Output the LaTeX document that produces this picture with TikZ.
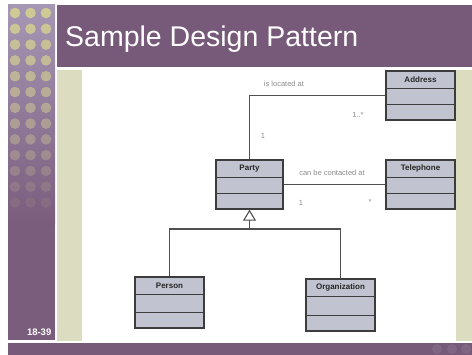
\documentclass[tikz,border=0pt]{standalone}
\usepackage{fontspec}
\setmainfont{Liberation Sans}
\usetikzlibrary{arrows.meta,calc}
\definecolor{hdr}{HTML}{775A79}
\definecolor{beige}{HTML}{DCDCC0}
\definecolor{striptop}{HTML}{A697B5}
\definecolor{stripbot}{HTML}{7A5C7C}
\definecolor{dotc}{HTML}{CFC994}
\definecolor{boxfill}{HTML}{C1C4D0}
\definecolor{boxline}{HTML}{3C3C3C}
\definecolor{lbl}{HTML}{8C8C8C}
\definecolor{conn}{HTML}{505050}
\tikzset{
  classbox/.style={draw=boxline, fill=boxfill, line width=1.3pt, inner sep=0pt},
  classname/.style={font=\bfseries\fontsize{8}{9}\selectfont, text=black!85, inner sep=0pt},
  divider/.style={draw=boxline, line width=1.3pt},
  conline/.style={draw=conn, line width=1.1pt},
  assoclbl/.style={font=\fontsize{7.5}{9}\selectfont, text=lbl, inner sep=0pt},
  gentip/.style={-{Triangle[open,length=11pt,width=13pt,line width=1.1pt]}}
}
\begin{document}
\begin{tikzpicture}[x=1pt,y=-1pt]
\useasboundingbox (0,0) rectangle (472,355);
\fill[white] (0,0) rectangle (472,355);
% left strip
\shade[top color=striptop, bottom color=stripbot] (8,5) rectangle (55,225);
\fill[stripbot] (8,224) rectangle (55,340);
\foreach \r in {0,...,12}{
  \pgfmathsetmacro{\op}{max(0.08,1-\r*0.075)}
  \foreach \cx in {15,30.5,46}{
    \fill[dotc, opacity=\op] (\cx,{13+\r*15.8}) circle (5.3);
  }
}
% header
\fill[hdr] (57,5) rectangle (472,67.5);
\node[anchor=base west, text=white, font=\fontsize{28.5}{30}\selectfont, inner sep=0pt] (title) at (65,47) {Sample Design Pattern};
% panels
\fill[beige] (57,70) rectangle (82,341);
\fill[beige] (456,70) rectangle (472,341);
% bottom band
\fill[hdr] (8,343) rectangle (472,355);
\foreach \cx in {437,452,466}{ \fill[white, opacity=0.08] (\cx,349) circle (5); }
\node[anchor=base east, text=white, font=\bfseries\fontsize{9.5}{10}\selectfont, inner sep=0pt] (pagenum) at (51.5,336) {18-39};

% classes
\node[classbox, minimum width=69pt, minimum height=49pt] (address) at (420.5,95.5) {};
\node[classbox, minimum width=69pt, minimum height=49pt] (telephone) at (420.5,184.5) {};
\node[classbox, minimum width=67pt, minimum height=49pt] (party) at (249.5,184.5) {};
\node[classbox, minimum width=69pt, minimum height=51pt] (person) at (169.5,302.5) {};
\node[classbox, minimum width=69pt, minimum height=52pt] (organization) at (340.5,305) {};
\foreach \n/\t in {address/Address,telephone/Telephone,party/Party,person/Person,organization/Organization}{
  \node[classname] at ($(\n.north)+(0,9.5)$) {\t};
  \draw[divider] ($(\n.north west)+(0,18.5)$) -- ($(\n.north east)+(0,18.5)$);
  \draw[divider] ($(\n.south west)+(0,-16)$) -- ($(\n.south east)+(0,-16)$);
}

% associations
\draw[conline] (party.north) |- (address.west);
\draw[conline] (party.east) -- (telephone.west);
% generalization
\coordinate (junction) at (249.5,229);
\draw[conline] (person.north) |- (junction) -| (organization.north);
\draw[conline, gentip] (junction) -- (party.south);

% labels
\node[assoclbl] (l1) at (284,84) {is located at};
\node[assoclbl] (l2) at (358,115) {1..*};
\node[assoclbl] (l3) at (263,136) {1};
\node[assoclbl] (l4) at (332,173) {can be contacted at};
\node[assoclbl] (l5) at (301,203) {1};
\node[assoclbl] (l6) at (370,202) {*};
\end{tikzpicture}
\end{document}
